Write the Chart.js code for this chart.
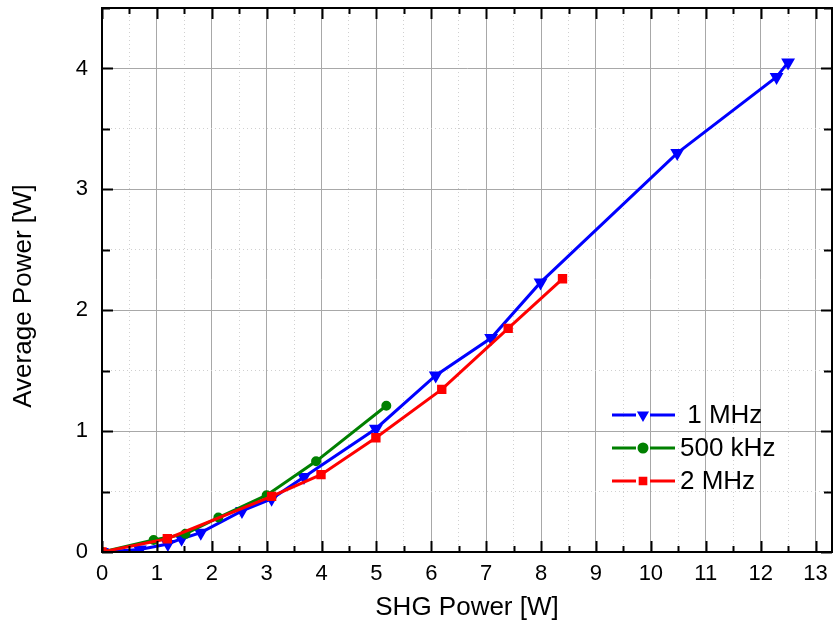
<!DOCTYPE html>
<html>
<head>
<meta charset="utf-8">
<script src="https://cdn.jsdelivr.net/npm/chart.js@4.4.0/dist/chart.umd.min.js"></script>
<style>
  html, body { margin: 0; padding: 0; background: #fff; }
  #wrap { width: 833px; height: 631px; }
</style>
</head>
<body>
<div id="wrap"><canvas id="c" width="833" height="631"></canvas></div>
<script>
'use strict';

// ---- data ----
const MHZ1_X = [0, 0.69, 1.2, 1.45, 1.8, 2.55, 3.09, 3.68, 4.99, 6.08, 7.09, 7.99, 10.48, 12.29, 12.5];
const MHZ1_Y = [0, 0.02, 0.066, 0.11, 0.16, 0.34, 0.44, 0.62, 1.02, 1.46, 1.77, 2.23, 3.30, 3.93, 4.05];

const KHZ500_X = [0, 0.94, 1.52, 2.12, 3.0, 3.9, 5.18];
const KHZ500_Y = [0, 0.10, 0.15, 0.285, 0.47, 0.75, 1.21];

const MHZ2_X = [0, 1.19, 3.09, 3.99, 4.99, 6.19, 7.4, 8.39];
const MHZ2_Y = [0, 0.11, 0.46, 0.64, 0.945, 1.345, 1.85, 2.26];

const X_MIN = 0, X_MAX = 13.3, X_STEP = 0.5;
const Y_MIN = 0, Y_MAX = 4.5, Y_STEP = 0.5;

const FONT = "'Liberation Sans', Arial, sans-serif";

function pts(xs, ys) {
  return xs.map((x, i) => ({ x, y: ys[i] }));
}

const isMajor = v => Math.abs(v - Math.round(v)) < 1e-6;

// grid: solid at integers, dotted at halves
const gridOpts = {
  color: ctx => isMajor(ctx.tick ? ctx.tick.value : 0) ? '#a8a8a8' : '#d0d0d0',
  lineWidth: 1,
  drawTicks: false,
};
const borderOpts = {
  display: true,
  color: '#000',
  width: 2,
  dash: ctx => isMajor(ctx.tick ? ctx.tick.value : 0) ? [] : [1, 3],
};

// ---- plugins: frame + inward ticks, y title, legend ----
const framePlugin = {
  id: 'frame',
  afterDatasetsDraw(chart) {
    const { ctx, chartArea: a, scales: { x, y } } = chart;
    ctx.save();
    ctx.strokeStyle = '#000';
    ctx.lineWidth = 2;
    ctx.strokeRect(a.left, a.top, a.right - a.left, a.bottom - a.top);
    ctx.beginPath();
    for (let v = X_MIN; v <= X_MAX + 1e-6; v += X_STEP) {
      const px = Math.round(x.getPixelForValue(v)) + 0.5;
      const len = isMajor(v) ? 11 : 6;
      ctx.moveTo(px, a.bottom); ctx.lineTo(px, a.bottom - len);
      ctx.moveTo(px, a.top); ctx.lineTo(px, a.top + len);
    }
    for (let v = Y_MIN; v <= Y_MAX + 1e-6; v += Y_STEP) {
      const py = Math.round(y.getPixelForValue(v)) + 0.5;
      const len = isMajor(v) ? 11 : 8;
      ctx.moveTo(a.left, py); ctx.lineTo(a.left + len, py);
      ctx.moveTo(a.right, py); ctx.lineTo(a.right - len, py);
    }
    ctx.stroke();
    ctx.restore();
  },
  afterDraw(chart) {
    const { ctx } = chart;
    // y axis title (sits a bit below the plot centre in the original)
    ctx.save();
    ctx.translate(24, 296);
    ctx.rotate(-Math.PI / 2);
    ctx.font = '26px ' + FONT;
    ctx.fillStyle = '#000';
    ctx.textAlign = 'center';
    ctx.textBaseline = 'middle';
    ctx.fillText('Average Power [W]', 0, 0);
    ctx.restore();

    // legend: line - marker - line, then label
    const rows = [
      { ds: 0, y: 415, text: ' 1 MHz' },
      { ds: 1, y: 448, text: '500 kHz' },
      { ds: 2, y: 481, text: '2 MHz' },
    ];
    ctx.save();
    rows.forEach(r => {
      const d = chart.data.datasets[r.ds];
      ctx.strokeStyle = d.borderColor;
      ctx.lineWidth = 3;
      ctx.beginPath();
      ctx.moveTo(612, r.y); ctx.lineTo(636, r.y);
      ctx.moveTo(650, r.y); ctx.lineTo(675, r.y);
      ctx.stroke();
      ctx.fillStyle = d.borderColor;
      Chart.helpers.drawPoint(ctx, {
        pointStyle: d.pointStyle,
        rotation: d.pointRotation || 0,
        radius: 4,
        borderWidth: 1,
      }, 643, r.y);
      ctx.fill();
      ctx.fillStyle = '#000';
      ctx.font = '26px ' + FONT;
      ctx.textAlign = 'left';
      ctx.textBaseline = 'middle';
      ctx.fillText(r.text, 680, r.y + 1);
    });
    ctx.restore();
  }
};

new Chart(document.getElementById('c'), {
  type: 'scatter',
  data: {
    datasets: [
      {
        label: '1 MHz',
        data: pts(MHZ1_X, MHZ1_Y),
        showLine: true,
        borderColor: '#0000ff',
        backgroundColor: '#0000ff',
        borderWidth: 3,
        pointStyle: 'triangle',
        pointRotation: 180,
        pointRadius: 5,
        order: 2,
      },
      {
        label: '500 kHz',
        data: pts(KHZ500_X, KHZ500_Y),
        showLine: true,
        borderColor: '#008000',
        backgroundColor: '#008000',
        borderWidth: 3,
        pointStyle: 'circle',
        pointRadius: 3.5,
        order: 1,
      },
      {
        label: '2 MHz',
        data: pts(MHZ2_X, MHZ2_Y),
        showLine: true,
        borderColor: '#ff0000',
        backgroundColor: '#ff0000',
        borderWidth: 3,
        pointStyle: 'rect',
        pointRadius: 4.5,
        order: 0,
      },
    ]
  },
  options: {
    responsive: false,
    animation: false,
    events: [],
    layout: { autoPadding: false, padding: { top: 8, right: 1, left: 0, bottom: 0 } },
    plugins: {
      legend: { display: false },
      tooltip: { enabled: false },
    },
    scales: {
      x: {
        type: 'linear',
        min: X_MIN, max: X_MAX,
        afterFit: s => { s.height = 79; s.paddingLeft = 0; s.paddingRight = 0; },
        ticks: {
          stepSize: X_STEP,
          includeBounds: false,
          autoSkip: false,
          maxRotation: 0,
          padding: 9,
          color: '#000',
          font: { family: FONT, size: 22 },
          callback: v => isMajor(v) ? String(Math.round(v)) : '',
        },
        grid: gridOpts,
        border: borderOpts,
        title: {
          display: true,
          text: 'SHG Power [W]',
          color: '#000',
          font: { family: FONT, size: 26 },
          padding: { top: 0, bottom: 8 },
        },
      },
      y: {
        type: 'linear',
        min: Y_MIN, max: Y_MAX,
        afterFit: s => { s.width = 102; s.paddingTop = 0; s.paddingBottom = 0; },
        ticks: {
          stepSize: Y_STEP,
          autoSkip: false,
          padding: 14,
          color: '#000',
          font: { family: FONT, size: 22 },
          callback: v => isMajor(v) ? String(Math.round(v)) : '',
        },
        grid: gridOpts,
        border: borderOpts,
      },
    },
  },
  plugins: [framePlugin],
});
</script>
</body>
</html>
